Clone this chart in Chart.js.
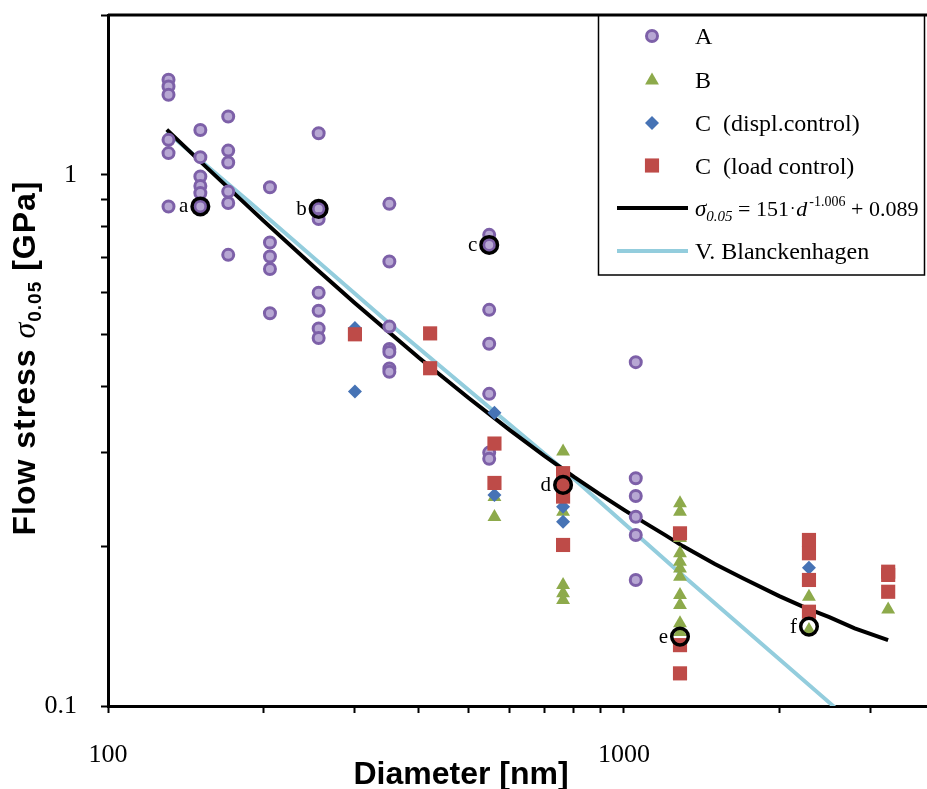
<!DOCTYPE html>
<html>
<head>
<meta charset="utf-8">
<script src="https://cdn.jsdelivr.net/npm/chart.js@4.4.1/dist/chart.umd.min.js"></script>
<style>
  html, body { margin: 0; padding: 0; background: #fff; }
</style>
</head>
<body>
<canvas id="grafico" width="927" height="789"></canvas>
<script>
// diametro [nm] e tensao [GPa]
const diamA = [131, 131, 131, 131, 131, 131,
  151, 151, 151, 151, 151, 151,
  171, 171, 171, 171, 171, 171,
  206, 206, 206, 206, 206,
  256, 256, 256, 256, 256, 256, 256,
  351, 351, 351, 351, 351, 351, 351,
  548, 548, 548, 548, 548, 548, 548,
  1054, 1054, 1054, 1054, 1054, 1054];
const tensaoA = [1.51, 1.467, 1.415, 1.164, 1.099, 0.872,
  1.215, 1.08, 0.993, 0.953, 0.924, 0.872,
  1.288, 1.111, 1.055, 0.93, 0.885, 0.707,
  0.948, 0.746, 0.702, 0.665, 0.549,
  1.198, 0.863, 0.826, 0.6, 0.555, 0.514, 0.493,
  0.882, 0.687, 0.518, 0.47, 0.464, 0.432, 0.426,
  0.771, 0.738, 0.557, 0.481, 0.387, 0.3, 0.292,
  0.444, 0.2685, 0.2486, 0.2272, 0.2099, 0.1727];

const diamB = [561, 561,
  762, 762, 762, 762, 762, 762,
  1284, 1284, 1284, 1284, 1284, 1284, 1284, 1284, 1284, 1284, 1284,
  2283, 2283,
  3251];
const tensaoB = [0.2475, 0.227,
  0.3013, 0.2573, 0.2322, 0.169, 0.163, 0.1583,
  0.2408, 0.2322, 0.2072, 0.1939, 0.1869, 0.1816, 0.1752, 0.1618, 0.155, 0.1432, 0.1378,
  0.1606, 0.139,
  0.152];

// C (displ.control)
const diamCd = [301, 301, 561, 561, 762, 762, 2283];
const tensaoCd = [0.515, 0.391, 0.3567, 0.2496, 0.2373, 0.2224, 0.182];

// C (load control)
const diamCc = [301, 421, 421, 561, 561, 762, 762, 762, 762,
  1284, 1284, 1284, 2283, 2283, 2283, 2283, 3251, 3251, 3251];
const tensaoCc = [0.501, 0.503, 0.4325, 0.312, 0.263, 0.2744, 0.2608, 0.2479, 0.201,
  0.2114, 0.1302, 0.1152, 0.2054, 0.1939, 0.1727, 0.1505, 0.179, 0.1765, 0.1641];

// curva ajustada (preta)
const diamAjuste = [130, 150, 175, 200, 250, 300, 350, 400, 500, 600, 700, 800, 900, 1000,
  1100, 1200, 1300, 1500, 1700, 2000, 2250, 2500, 2800, 3250];
const tensaoAjuste = [1.217, 1.066, 0.926, 0.82, 0.673, 0.575, 0.506, 0.453, 0.38, 0.331, 0.296, 0.27, 0.25, 0.234,
  0.221, 0.21, 0.2, 0.185, 0.174, 0.161, 0.153, 0.147, 0.14, 0.133];

// V. Blanckenhagen (azul claro)
const diamVB = [130, 188, 350, 762, 1284, 2560];
const tensaoVB = [1.205, 0.889, 0.526, 0.279, 0.178, 0.0995];

// pontos marcados a-f
const diamRef = [151, 256, 548, 762, 1284, 2283];
const tensaoRef = [0.872, 0.863, 0.738, 0.2608, 0.1351, 0.1411];
const letrasRef = ['a', 'b', 'c', 'd', 'e', 'f'];

const ticksX = [100, 200, 300, 400, 500, 600, 700, 800, 900, 1000, 2000, 3000];
const rotulosX = [100, 1000];
const ticksY = [0.1, 0.2, 0.3, 0.4, 0.5, 0.6, 0.7, 0.8, 0.9, 1, 2];
const rotulosY = [0.1, 1];

const nomes = ['A', 'B', 'C  (displ.control)', 'C  (load control)', '', 'V. Blanckenhagen'];

const corA = '#7D60A8', fundoA = '#B7A7D3', corB = '#8DAA4B', corCd = '#4673B5', corCc = '#BE4B48', corVB = '#93CDDD';

function pares(xs, ys) {
  return xs.map((x, i) => ({ x: x, y: ys[i] }));
}

const serif = 'Liberation Serif, Times New Roman, serif';
const sans = 'Liberation Sans, Arial, sans-serif';

function marcador(ctx, estilo, raio, x, y, cor, fundo, borda) {
  ctx.save();
  ctx.fillStyle = fundo;
  ctx.strokeStyle = cor;
  ctx.lineWidth = borda;
  Chart.helpers.drawPoint(ctx, { pointStyle: estilo, radius: raio, rotation: 0, borderWidth: borda }, x, y);
  ctx.restore();
}

function trecho(ctx, txt, fonte, x, y) {
  ctx.font = fonte;
  ctx.fillText(txt, x, y);
  return x + ctx.measureText(txt).width;
}

const extras = {
  id: 'extras',
  afterDatasetsDraw(chart) {
    const ctx = chart.ctx;
    const sx = chart.scales.x, sy = chart.scales.y;
    ctx.save();
    ctx.fillStyle = '#000';
    ctx.font = '21px ' + serif;
    ctx.textAlign = 'right';
    ctx.textBaseline = 'alphabetic';
    letrasRef.forEach((l, i) => {
      ctx.fillText(l, sx.getPixelForValue(diamRef[i]) - 12, sy.getPixelForValue(tensaoRef[i]) + 6);
    });
    ctx.restore();
  },
  afterDraw(chart) {
    const ctx = chart.ctx;
    const area = chart.chartArea;
    ctx.save();
    // borda superior
    ctx.strokeStyle = '#000';
    ctx.lineWidth = 3;
    ctx.beginPath();
    ctx.moveTo(area.left, area.top);
    ctx.lineTo(927, area.top);
    ctx.stroke();

    // legenda
    const t = area.top;
    ctx.lineWidth = 1.5;
    ctx.strokeRect(598.5, t, 326, 260);
    const linhas = [t + 21, t + 64.5, t + 108, t + 150.5, t + 193, t + 236];
    marcador(ctx, 'circle', 5.5, 652, linhas[0], corA, fundoA, 3);
    marcador(ctx, 'triangle', 8, 652, linhas[1] + 1, corB, corB, 0);
    marcador(ctx, 'rectRot', 7, 652, linhas[2], corCd, corCd, 0);
    marcador(ctx, 'rect', 10, 652, linhas[3], corCc, corCc, 0);
    ctx.lineWidth = 4;
    ctx.strokeStyle = '#000';
    ctx.beginPath(); ctx.moveTo(617, linhas[4]); ctx.lineTo(688, linhas[4]); ctx.stroke();
    ctx.strokeStyle = corVB;
    ctx.beginPath(); ctx.moveTo(617, linhas[5]); ctx.lineTo(688, linhas[5]); ctx.stroke();

    ctx.fillStyle = '#000';
    ctx.textAlign = 'left';
    ctx.textBaseline = 'alphabetic';
    ctx.font = '24px ' + serif;
    [0, 1, 2, 3, 5].forEach(i => ctx.fillText(nomes[i], 695, linhas[i] + 8));
    // formula
    let x = 695, y = linhas[4] + 8;
    x = trecho(ctx, 'σ', 'italic 23px ' + serif, x, y);
    x = trecho(ctx, '0.05', 'italic 15px ' + serif, x, y + 5);
    x = trecho(ctx, ' = 151', '22px ' + serif, x, y);
    x = trecho(ctx, '·', '16px ' + serif, x + 1, y - 2);
    x = trecho(ctx, 'd', 'italic 22px ' + serif, x + 1, y);
    x = trecho(ctx, '-1.006', '14px ' + serif, x + 2, y - 10);
    x = trecho(ctx, ' + 0.089', '22px ' + serif, x, y);

    // titulo do eixo x
    ctx.textAlign = 'center';
    ctx.font = 'bold 32px ' + sans;
    ctx.fillText('Diameter [nm]', 461, 784);

    // titulo do eixo y (girado)
    ctx.translate(35, 358);
    ctx.rotate(-Math.PI / 2);
    ctx.textAlign = 'left';
    ctx.letterSpacing = '1px';
    const partes = [
      ['Flow stress ', 'bold 32px ' + sans, 0],
      ['σ', 'italic 32px ' + serif, 0],
      ['0.05', 'bold 19px ' + sans, 6],
      [' [GPa]', 'bold 32px ' + sans, 0]
    ];
    let total = 0;
    partes.forEach(p => { ctx.font = p[1]; total += ctx.measureText(p[0]).width; });
    let px = -total / 2;
    partes.forEach(p => { px = trecho(ctx, p[0], p[1], px, p[2]); });
    ctx.restore();
  }
};

const grafico = document.getElementById('grafico');

new Chart(grafico, {
  type: 'scatter',
  data: {
    datasets: [
      {
        label: 'pontos a-f',
        data: pares(diamRef, tensaoRef),
        pointStyle: 'circle',
        pointRadius: 8.3,
        pointBorderWidth: 3.5,
        borderColor: '#000',
        backgroundColor: 'rgba(0,0,0,0)',
        order: 0
      },
      {
        label: nomes[3],
        data: pares(diamCc, tensaoCc),
        pointStyle: 'rect',
        pointRadius: 10,
        pointBorderWidth: 0,
        backgroundColor: corCc,
        borderColor: corCc,
        order: 1
      },
      {
        label: nomes[2],
        data: pares(diamCd, tensaoCd),
        pointStyle: 'rectRot',
        pointRadius: 7,
        pointBorderWidth: 0,
        backgroundColor: corCd,
        borderColor: corCd,
        order: 2
      },
      {
        label: nomes[1],
        data: pares(diamB, tensaoB),
        pointStyle: 'triangle',
        pointRadius: 8,
        pointBorderWidth: 0,
        backgroundColor: corB,
        borderColor: corB,
        order: 3
      },
      {
        label: nomes[0],
        data: pares(diamA, tensaoA),
        pointStyle: 'circle',
        pointRadius: 5.5,
        pointBorderWidth: 3,
        backgroundColor: fundoA,
        borderColor: corA,
        order: 4
      },
      {
        label: 'ajuste',
        data: pares(diamAjuste, tensaoAjuste),
        showLine: true,
        pointRadius: 0,
        borderColor: '#000',
        borderWidth: 4,
        tension: 0,
        order: 5
      },
      {
        label: nomes[5],
        data: pares(diamVB, tensaoVB),
        showLine: true,
        pointRadius: 0,
        borderColor: corVB,
        borderWidth: 4,
        tension: 0,
        order: 6
      }
    ]
  },
  options: {
    responsive: false,
    animation: false,
    events: [],
    devicePixelRatio: 1,
    layout: { autoPadding: false, padding: { top: 15, right: 0, left: 0, bottom: 0 } },
    plugins: {
      legend: { display: false },
      tooltip: { enabled: false }
    },
    scales: {
      x: {
        type: 'logarithmic',
        min: 100,
        max: 3866,
        afterBuildTicks: s => { s.ticks = ticksX.map(v => ({ value: v })); },
        afterFit: s => { s.height = 83; s.paddingLeft = 0; s.paddingRight = 0; },
        grid: { display: true, drawOnChartArea: false, drawTicks: true, tickLength: 7, tickWidth: 2, tickColor: '#000' },
        border: { display: true, color: '#000', width: 3 },
        ticks: {
          autoSkip: false,
          maxRotation: 0,
          padding: 27,
          color: '#000',
          font: { family: serif, size: 26 },
          callback: v => rotulosX.includes(v) ? String(v) : ''
        }
      },
      y: {
        type: 'logarithmic',
        min: 0.1,
        max: 2,
        afterBuildTicks: s => { s.ticks = ticksY.map(v => ({ value: v })); },
        afterFit: s => { s.width = 108; s.paddingTop = 0; s.paddingBottom = 0; },
        grid: { display: true, drawOnChartArea: false, drawTicks: true, tickLength: 7, tickWidth: 2, tickColor: '#000' },
        border: { display: true, color: '#000', width: 3 },
        ticks: {
          autoSkip: false,
          padding: 24,
          color: '#000',
          font: { family: serif, size: 26 },
          callback: v => rotulosY.includes(v) ? String(v) : ''
        }
      }
    }
  },
  plugins: [extras]
});
</script>
</body>
</html>
